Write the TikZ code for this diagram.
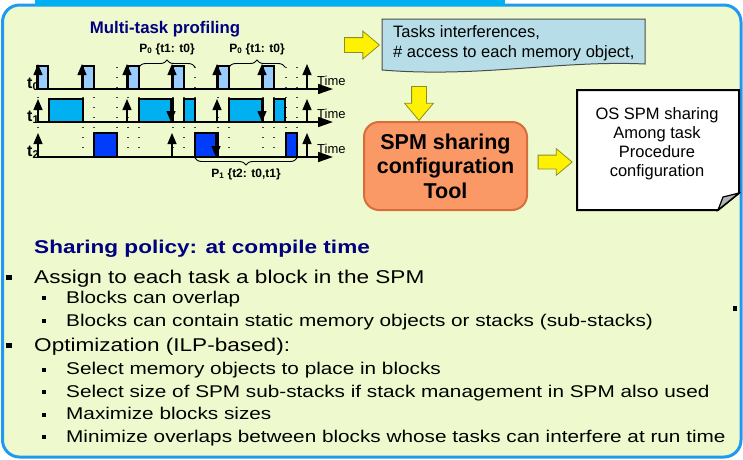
\documentclass[tikz,border=0pt]{standalone}
\usepackage{fontspec}
\setmainfont{Liberation Sans}
\newfontfamily\wideface[FakeStretch=1.22]{Liberation Sans}
\usetikzlibrary{positioning, calc, arrows.meta, decorations.pathreplacing, shapes.arrows}

\definecolor{frameblue}{RGB}{30,155,240}
\definecolor{tabblue}{RGB}{0,176,240}
\definecolor{slidefill}{RGB}{238,250,205}
\definecolor{headnavy}{RGB}{0,0,128}
\definecolor{taskA}{RGB}{153,204,255}
\definecolor{taskB}{RGB}{0,176,240}
\definecolor{taskC}{RGB}{0,60,250}
\definecolor{notefill}{RGB}{183,222,232}
\definecolor{toolfill}{RGB}{250,152,102}
\definecolor{tooledge}{RGB}{215,110,60}
\definecolor{arrowedge}{RGB}{140,140,40}
\definecolor{folded}{RGB}{180,180,180}

\newcommand{\px}[2]{\fontsize{#1pt}{#2pt}\selectfont}

\tikzset{
  slide/.style={draw=frameblue, line width=3pt, fill=slidefill, rounded corners=17pt},
  timeaxis/.style={line width=1.6pt, -{Triangle[length=15pt,width=10pt]}},
  release/.style={line width=1.3pt, -{Triangle[length=11pt,width=9pt]}},
  slotgrid/.style={line width=1.2pt, black!75, dash pattern=on 1.2pt off 8.8pt},
  jobA/.style={draw, line width=2pt, fill=taskA},
  jobB/.style={draw, line width=2pt, fill=taskB},
  jobC/.style={draw, line width=2pt, fill=taskC},
  phase/.style={decorate, decoration={brace, amplitude=7pt}, line width=0.9pt},
  phaselabel/.style={anchor=base, font=\px{12}{14}\bfseries},
  taskname/.style={anchor=base west, inner sep=0pt, font=\px{16}{18}\bfseries},
  timelabel/.style={anchor=base west, inner sep=0pt, font=\px{13}{15}},
  yarrow/.style={single arrow, draw=arrowedge, fill=yellow, line width=0.8pt,
    single arrow tip angle=80, single arrow head extend=6.5pt,
    minimum height=35pt, inner xsep=0pt, inner ysep=7pt},
  toolbox/.style={draw=tooledge, line width=2pt, fill=toolfill, rounded corners=15pt,
    minimum width=163pt, minimum height=88pt, align=center, font=\px{21.5}{24.5}\bfseries},
  lvlone/.style={anchor=base west, inner sep=0pt, font=\wideface\px{18.5}{22}},
  lvltwo/.style={anchor=base west, inner sep=0pt, font=\wideface\px{17}{20}},
  bulone/.style={fill=black, minimum width=5.5pt, minimum height=5pt, inner sep=0pt},
  bultwo/.style={fill=black, minimum size=4pt, inner sep=0pt},
}

\begin{document}
\begin{tikzpicture}[x=1pt, y=-1pt]
\useasboundingbox (0,0) rectangle (743,459);

% slide frame
\draw[slide] (2.5,5) rectangle (741,457);
\fill[tabblue] (35,0) rectangle (505,6);

% Multi-task profiling
\node[anchor=base, font=\px{16.8}{19}\bfseries, text=headnavy] (proftitle) at (165,33) {Multi-task profiling};

% slot boundaries
\foreach \x in {38,83,94,117,128,139,173,184,195,218,229,263,274,286,297}
  \draw[slotgrid] (\x,67) -- (\x,160);

% jobs of t0, t1, t2
\foreach \x in {37,83,128,173,218,263}
  \draw[jobA] (\x,66) rectangle ++(11,23);
\foreach \a/\b in {49/83,139/173,184/195,229/263,274/285}
  \draw[jobB] (\a,99) rectangle (\b,122);
\foreach \a/\b in {94/117,195/218,286/297}
  \draw[jobC] (\a,133) rectangle (\b,157);

% time axes
\coordinate (ax0s) at (37,89);  \coordinate (ax0e) at (333,89);
\coordinate (ax1s) at (37,122); \coordinate (ax1e) at (333,122);
\coordinate (ax2s) at (37,157); \coordinate (ax2e) at (333,157);
\draw[timeaxis] (ax0s) -- (ax0e);
\draw[timeaxis] (ax1s) -- (ax1e);
\draw[timeaxis] (ax2s) -- (ax2e);

% releases and preemptions
\foreach \x in {38,82,127,172,217,262,307}
  \draw[release] (\x,89) -- (\x,64);
\foreach \x in {38,127,217,307}
  \draw[release] (\x,122) -- (\x,99);
\foreach \x in {171,262}
  \draw[release] (\x,99) -- (\x,122);
\foreach \x in {38,172,307}
  \draw[release] (\x,157) -- (\x,133);
\draw[release] (216,133) -- (216,157);

% task names and time labels
\node[taskname] (tname0) at (27,88) {t\textsubscript{0}};
\node[taskname] (tname1) at (27,121) {t\textsubscript{1}};
\node[taskname] (tname2) at (27,156) {t\textsubscript{2}};
\node[timelabel] (time0) at (317,85) {Time};
\node[timelabel] (time1) at (317,118) {Time};
\node[timelabel] (time2) at (317,153) {Time};

% phases
\draw[phase] (139,67) -- (195,67);
\node[phaselabel] (phase0a) at (167,52) {P\textsubscript{0} \{t1: t0\}};
\draw[phase] (229,67) -- (285,67);
\node[phaselabel] (phase0b) at (257,52) {P\textsubscript{0} \{t1: t0\}};
\draw[phase] (297,158) -- (195,158);
\node[phaselabel] (phase1) at (246,177) {P\textsubscript{1} \{t2: t0,t1\}};

% profiling output
\draw[draw=black!70, fill=notefill, line width=1pt]
  (382,19) -- (645,19) -- (645,64) .. controls (560,60) and (480,78) .. (382,70) -- cycle;
\node[anchor=base west, inner sep=0pt, font=\px{16.5}{20}] (notes1) at (393,37) {Tasks interferences,};
\node[anchor=base west, inner sep=0pt, font=\px{16.5}{20}] (notes2) at (393,57) {\# access to each memory object,};

% tool
\node[toolbox] (tool) at (445.5,166) {SPM sharing\\configuration\\Tool};

% OS configuration sheet
\draw[line width=2pt, fill=white] (577,90) -- (739,90) -- (739,193) -- (718,210) -- (577,210) -- cycle;
\draw[line width=1.2pt, fill=folded] (718,210) -- (723,197) -- (739,193) -- cycle;
\node[align=center, font=\px{16.5}{19}] (ostext) at (657,144) {OS SPM sharing\\Among task\\Procedure\\configuration};

% yellow arrows
\node[yarrow] (toNotes) at (357.5,45) {};
\node[yarrow, rotate=-90, minimum height=34pt, single arrow head extend=7pt] (toTool) at (419,99) {};
\node[yarrow, minimum height=34pt, inner ysep=6.5pt] (toOS) at (551,162) {};

% sharing policy
\node[lvlone, font=\wideface\px{18.5}{22}\bfseries, text=headnavy] (policy) at (34,253) {Sharing policy: at compile time};
\node[bulone] (bul1) at (9,277.5) {};
\node[lvlone] (item1) at (34,283) {Assign to each task a block in the SPM};
\node[bultwo] (bul11) at (44,298) {};
\node[lvltwo] (item11) at (66,303) {Blocks can overlap};
\node[bultwo] (bul12) at (44,321) {};
\node[lvltwo] (item12) at (66,326) {Blocks can contain static memory objects or stacks (sub-stacks)};
\node[bulone] (bul2) at (9,345.5) {};
\node[lvlone] (item2) at (34,351) {Optimization (ILP-based):};
\node[bultwo] (bul21) at (44,369.5) {};
\node[lvltwo] (item21) at (66,374.5) {Select memory objects to place in blocks};
\node[bultwo] (bul22) at (44,392) {};
\node[lvltwo] (item22) at (66,397) {Select size of SPM sub-stacks if stack management in SPM also used};
\node[bultwo] (bul23) at (44,414.5) {};
\node[lvltwo] (item23) at (66,419.5) {Maximize blocks sizes};
\node[bultwo] (bul24) at (44,437) {};
\node[lvltwo] (item24) at (66,442) {Minimize overlaps between blocks whose tasks can interfere at run time};
\node[bulone, minimum width=4.7pt, minimum height=4.7pt] (bulx) at (735,308.3) {};
\end{tikzpicture}
\end{document}
